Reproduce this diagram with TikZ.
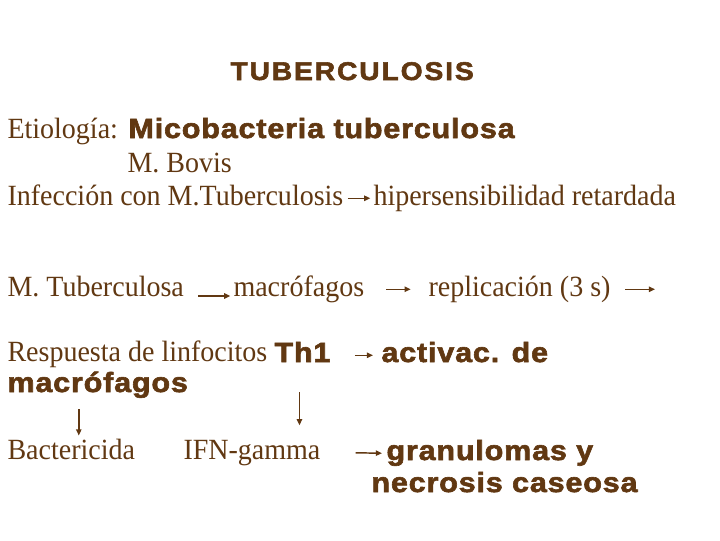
\documentclass[tikz,border=0pt]{standalone}
\usepackage{fontspec}
\setmainfont[FakeStretch=0.955]{Liberation Serif}
\newfontfamily\negrita[FakeStretch=1.1,LetterSpace=3,FakeBold=2.2]{Liberation Sans}
\usetikzlibrary{calc}
\usetikzlibrary{arrows.meta}
\definecolor{cafe}{RGB}{97,56,18}
\tikzset{every picture/.style={line width=0.75pt}}
\tikzset{
  texto/.style={anchor=base west,inner sep=0pt,color=cafe,font=\fontsize{22}{26}\selectfont},
  fuerte/.style={anchor=base west,inner sep=0pt,color=cafe,font=\fontsize{20.8}{25}\negrita\bfseries},
  flecha/.style={draw=cafe,line width=1.1pt,-{Triangle[length=4.6pt,width=4pt]}}
}

\begin{document}
\fontsize{22}{26}\selectfont
\begin{tikzpicture}[x=0.75pt,y=0.75pt,yscale=-1,xscale=1]
\fill[white] (0,0) rectangle (720,540);

% Title
\draw (230,80) node [fuerte,font=\fontsize{19.2}{23}\negrita\bfseries\addfontfeature{LetterSpace=7.5}] (titulo) {TUBERCULOSIS};

% Etiologia
\draw (7,138) node [texto] (etio) {Etiología:};
\draw (128,138) node [fuerte] (mico) {Micobacteria tuberculosa};
\draw (127,172) node [texto] (bovis) {M. Bovis};
\draw (7,205) node [texto] (infec) {Infección con M.Tuberculosis};
\draw (373,205) node [texto] (hiper) {hipersensibilidad retardada};
\draw [flecha,shorten <=3pt,shorten >=2pt] (infec.mid east) -- (hiper.mid west);

% Replicacion
\draw (7,296) node [texto] (mtb) {M. Tuberculosa};
\draw (233,296) node [texto] (macro) {macrófagos};
\draw (428,296) node [texto] (repli) {replicación (3 s)};
\coordinate (sigue) at ($(repli.mid east)+(44,0)$);
\draw [flecha,shorten <=10.5pt,shorten >=2pt] (mtb.base east) -- (macro.base west);
\draw [flecha,shorten <=16pt,shorten >=13pt] (macro.mid east) -- (repli.mid west);
\draw [flecha,shorten <=10.5pt] (repli.mid east) -- (sigue);

% Respuesta Th1
\draw (7,361) node [texto] (resp) {Respuesta de linfocitos};
\draw (274,362) node [fuerte] (th1) {Th1};
\draw (381,362) node [fuerte] (activ) {activac. de};
\draw (7,392) node [fuerte] (macrob) {macrófagos};
\draw [flecha,shorten <=18pt,shorten >=6pt] (th1.mid east) -- (activ.mid west);

% Efectos
\draw (7,459) node [texto] (bact) {Bactericida};
\draw (183,459) node [texto] (ifn) {IFN-gamma};
\draw (386,460) node [fuerte] (gran) {granulomas y};
\draw (371,492) node [fuerte] (necro) {necrosis caseosa};
\coordinate (bajaA) at ($(bact.north)+(7.5,0)$);
\coordinate (bajaB) at ($(ifn.north)+(47.5,0)$);
\draw [flecha,shorten <=8pt,shorten >=2pt] (bajaA |- macrob.south) -- (bajaA);
\draw [flecha,shorten >=10.5pt] (bajaB |- macrob.base) -- (bajaB);
\draw [flecha,shorten <=26pt,shorten >=3pt] (ifn.mid east) -- (gran.mid west);

\end{tikzpicture}
\end{document}
